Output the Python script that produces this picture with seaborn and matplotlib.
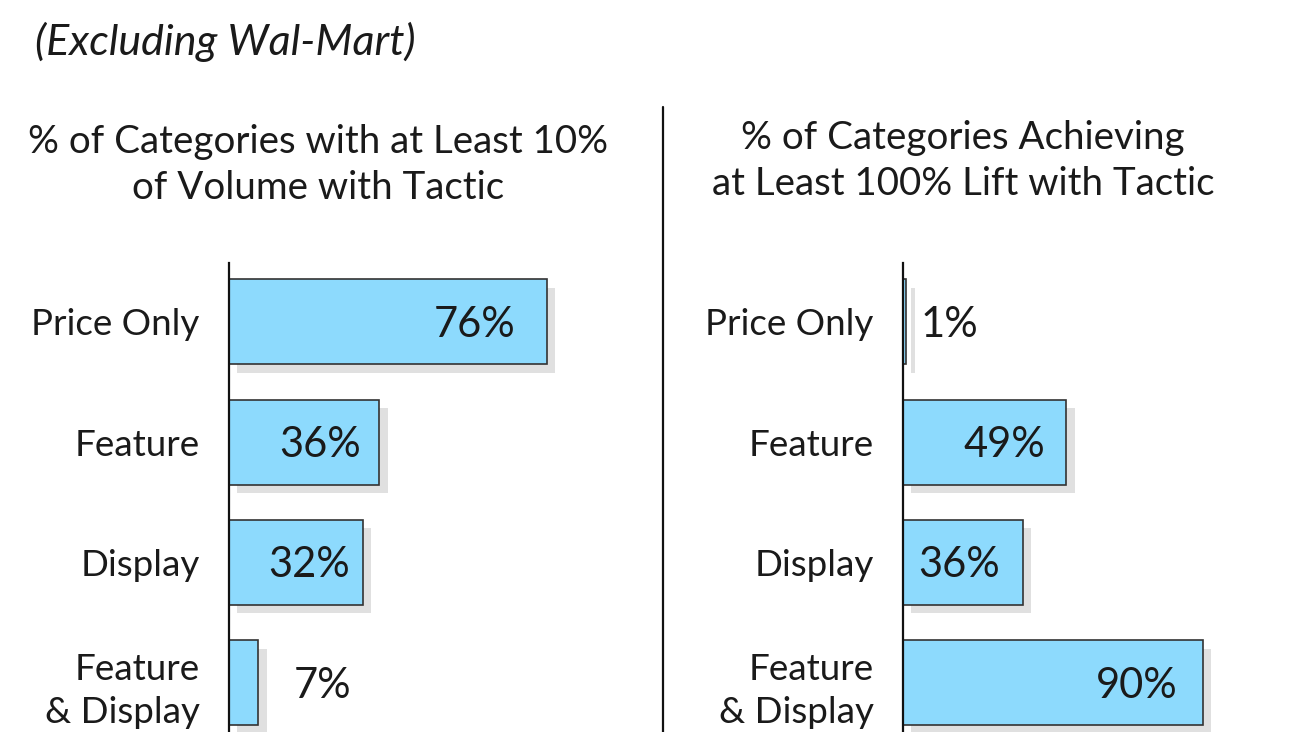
import matplotlib
matplotlib.use("Agg")
import matplotlib.pyplot as plt
import matplotlib.patheffects as pe
from matplotlib.lines import Line2D
import seaborn as sns
import pandas as pd

# ---- data ----
categories = ["Price Only", "Feature", "Display", "Feature\n& Display"]
volume_pct = [76, 36, 32, 7]
lift_pct = [1, 49, 36, 90]
subtitle = "(Excluding Wal-Mart)"
left_title = "% of Categories with at Least 10%\nof Volume with Tactic"
right_title = "% of Categories Achieving\nat Least 100% Lift with Tactic"

sns.set_theme(style="white")
FONT = ["Lato", "DejaVu Sans"]
plt.rcParams["font.family"] = FONT

W, H = 1300, 732
fig = plt.figure(figsize=(13, 7.32), dpi=100)
fig.patch.set_facecolor("white")

BAR = "#8DDAFD"
TXT = "#1a1a1a"

def fx(px):
    return px / W

def fy(py):
    return 1 - py / H

def panel(left_px, px_per_pct, values, pads):
    width_px = 100 * px_per_pct
    ax = fig.add_axes([fx(left_px), 0, width_px / W, (H - 263) / H])
    df = pd.DataFrame({"cat": categories, "val": values})
    sns.barplot(data=df, x="val", y="cat", orient="h", color=BAR,
                saturation=1, width=0.707, edgecolor="#333333",
                linewidth=1.2, ax=ax)
    for p in ax.patches:
        p.set_path_effects([pe.SimplePatchShadow(offset=(6, -6),
                                                 shadow_rgbFace="#999999",
                                                 alpha=0.3),
                            pe.Normal()])
    ax.set_xlim(0, 100)
    ax.set_ylim(3.41, -0.49)
    ax.set_xlabel("")
    ax.set_ylabel("")
    ax.set_xticks([])
    for s in ["top", "right", "bottom"]:
        ax.spines[s].set_visible(False)
    ax.spines["left"].set_color("#111111")
    ax.spines["left"].set_linewidth(1.6)
    ax.tick_params(axis="y", length=0, pad=21)
    for lab in ax.get_yticklabels():
        lab.set_fontsize(26.5)
        lab.set_color(TXT)
        lab.set_linespacing(1.4)
    for i, v in enumerate(values):
        if v >= 20:
            ax.annotate(f"{v}%", xy=(v, i), xytext=(-pads[i], -3),
                        textcoords="offset pixels", ha="right", va="center",
                        fontsize=30, color=TXT)
        else:
            ax.annotate(f"{v}%", xy=(v, i), xytext=(pads[i], -3),
                        textcoords="offset pixels", ha="left", va="center",
                        fontsize=30, color=TXT)
    ax.set_facecolor("none")
    return ax

panel(229, 4.18, volume_pct, [31, 18, 13, 35])
panel(903, 3.33, lift_pct, [14, 21, 23, 25])

fig.text(fx(35), fy(42), subtitle, fontsize=31, style="italic",
         color=TXT, ha="left", va="center")
fig.text(fx(318), fy(165), left_title, fontsize=27.7, color=TXT,
         ha="center", va="center", linespacing=1.35)
fig.text(fx(963), fy(161), right_title, fontsize=27.7, color=TXT,
         ha="center", va="center", linespacing=1.35)

fig.add_artist(Line2D([fx(663), fx(663)], [fy(107), 0], transform=fig.transFigure,
                      color="#111111", linewidth=1.6))

fig.savefig("out.png", dpi=100, facecolor="white")
